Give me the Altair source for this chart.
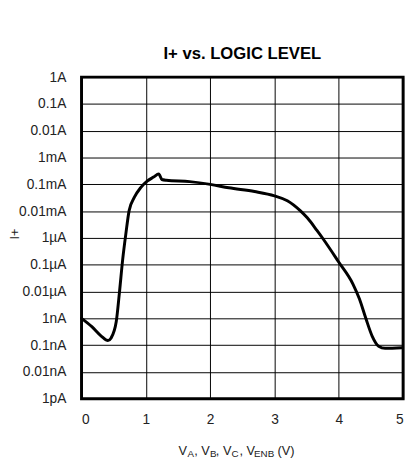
import altair as alt
import pandas as pd

# Curve: logic-level voltage (V) vs. supply current (decades of A)
volts = [0.00, 0.16, 0.31, 0.41, 0.46, 0.54, 0.59, 0.64, 0.69, 0.74, 0.82, 0.92,
         1.02, 1.12, 1.20, 1.25, 1.32, 1.68, 2.00, 2.29, 2.69, 3.00, 3.20, 3.40,
         3.51, 3.66, 3.76, 3.99, 4.22, 4.32, 4.42, 4.52, 4.62, 4.72, 4.98]
decades = [-9.00, -9.31, -9.67, -9.83, -9.73, -9.12, -8.02, -6.80, -5.83, -4.98, -4.49, -4.12,
           -3.88, -3.73, -3.61, -3.82, -3.85, -3.90, -4.00, -4.13, -4.27, -4.43, -4.61, -4.98,
           -5.25, -5.72, -6.05, -6.87, -7.72, -8.27, -9.00, -9.67, -10.04, -10.12, -10.10]
current = [10.0 ** d for d in decades]

x_ticks = [0, 1, 2, 3, 4, 5]
y_ticks = [10.0 ** -k for k in range(12, -1, -1)]
y_tick_labels = ["1pA", "0.01nA", "0.1nA", "1nA", "0.01µA", "0.1µA", "1µA",
                 "0.01mA", "0.1mA", "1mA", "0.01A", "0.1A", "1A"]

title_text = "I+ vs. LOGIC LEVEL"
y_title_text = "I+"
# x-axis title pieces: (text, is_subscript)
x_title_parts = [("V", False), ("A", True), (", V", False), ("B", True), (", V", False),
                 ("C", True), (", V", False), ("ENB", True), ("(V)", False)]

FONT = "Liberation Sans"

df = pd.DataFrame({"v": volts, "i": current})

label_array = "[" + ",".join("'" + s + "'" for s in y_tick_labels) + "]"

line = alt.Chart(df).mark_line(
    color="black", strokeWidth=3, interpolate="monotone", strokeCap="round", strokeJoin="round"
).encode(
    x=alt.X("v:Q", scale=alt.Scale(domain=[0, 5], nice=False, zero=False),
            axis=alt.Axis(values=x_ticks, title=None, grid=True, gridColor="black",
                          gridOpacity=1, gridWidth=1, ticks=False, tickSize=0, domain=False,
                          labelFont=FONT, labelFontSize=14, labelColor="#222",
                          labelPadding=14, format="d")),
    y=alt.Y("i:Q", scale=alt.Scale(type="log", domain=[1e-12, 1], nice=False),
            axis=alt.Axis(values=y_ticks, title=None, grid=True, gridColor="black",
                          gridOpacity=1, gridWidth=1, ticks=False, tickSize=0, domain=False,
                          labelFont=FONT, labelFontSize=14, labelColor="#222",
                          labelPadding=16,
                          labelExpr=label_array + "[round(log(datum.value)/LN10)+12]")),
)

one = pd.DataFrame({"a": [0]})

title = alt.Chart(one).mark_text(
    text=title_text, font=FONT, fontSize=17, fontWeight="bold", align="center",
    baseline="alphabetic", color="black"
).encode(x=alt.value(164), y=alt.value(-19))

ytitle = alt.Chart(one).mark_text(
    text=y_title_text, font=FONT, fontSize=13, angle=270, align="center",
    baseline="middle", color="#222"
).encode(x=alt.value(-68), y=alt.value(160))

# measured start offsets (px, relative to plot left) of the x-title pieces
x_title_starts = [99, 108, 115, 131, 137, 153, 161, 176, 200]
layers = [line, title, ytitle]
for (txt, sub), px in zip(x_title_parts, x_title_starts):
    layers.append(
        alt.Chart(one).mark_text(
            text=txt, font=FONT, fontSize=10 if sub else 13, align="left",
            baseline="alphabetic", color="#222"
        ).encode(x=alt.value(px), y=alt.value(387 if sub else 385))
    )

chart = alt.layer(*layers).properties(
    width=328, height=328,
    autosize=alt.AutoSizeParams(type="none"),
    padding={"left": 75, "top": 66, "right": 6, "bottom": 59},
).configure_view(stroke="black", strokeWidth=3)

chart.save("out.html", embed_options={"renderer": "svg", "actions": False})
